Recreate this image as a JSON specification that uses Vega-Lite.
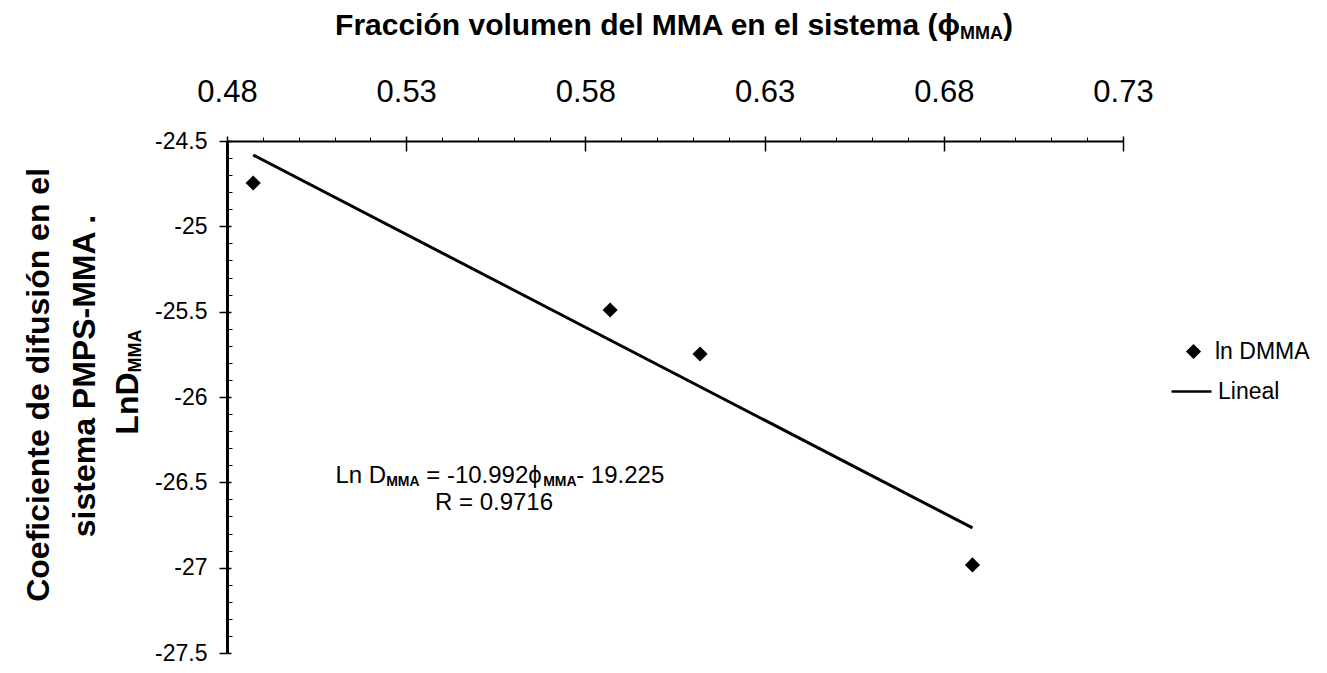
{
  "$schema": "https://vega.github.io/schema/vega-lite/v6.json",
  "width": 896,
  "height": 512,
  "autosize": "none",
  "padding": {"left": 227, "top": 141, "right": 204, "bottom": 20},
  "background": "white",
  "config": {
    "view": {"stroke": null},
    "font": "Liberation Sans",
    "axis": {"grid": false, "domainColor": "black", "tickColor": "black", "labelColor": "black", "labelFont": "Liberation Sans"},
    "legend": {"labelFont": "Liberation Sans", "labelColor": "black", "labelFontSize": 23, "padding": 0, "title": null},
    "text": {"font": "Liberation Sans", "color": "black"}
  },
  "resolve": {"axis": {"x": "independent", "y": "independent"}},
  "layer": [
    {
      "data": {"values": [
        {"phi": 0.4873, "lnD": -24.746, "serie": "ln DMMA"},
        {"phi": 0.5869, "lnD": -25.49, "serie": "ln DMMA"},
        {"phi": 0.612, "lnD": -25.748, "serie": "ln DMMA"},
        {"phi": 0.688, "lnD": -26.984, "serie": "ln DMMA"}
      ]},
      "mark": {"type": "point", "filled": true, "color": "black", "opacity": 1, "size": 230},
      "encoding": {
        "x": {"field": "phi", "type": "quantitative", "scale": {"domain": [0.48, 0.73], "nice": false, "zero": false},
          "axis": {"orient": "top", "title": null, "values": [0.48, 0.53, 0.58, 0.63, 0.68, 0.73], "format": ".2f", "labelFontSize": 31, "labelPadding": 28, "tickSize": 5, "tickWidth": 1.5, "domainWidth": 2, "labelFlush": false}},
        "y": {"field": "lnD", "type": "quantitative", "scale": {"domain": [-27.5, -24.5], "nice": false, "zero": false},
          "axis": {"orient": "left", "title": null, "values": [-24.5, -25, -25.5, -26, -26.5, -27, -27.5], "labelExpr": "'-' + format(-datum.value, '~g')", "labelFontSize": 23, "labelPadding": 12, "tickSize": 8, "tickWidth": 1.5, "domainWidth": 3, "labelFlush": false}},
        "shape": {"field": "serie", "type": "nominal", "scale": {"domain": ["ln DMMA"], "range": ["diamond"]},
          "legend": {"orient": "none", "legendX": 955, "legendY": 199, "symbolSize": 230, "symbolFillColor": "black", "symbolOpacity": 1, "labelOffset": 10}}
      }
    },
    {
      "data": {"values": [
        {"phi": 0.4873, "lnD": -24.582, "serie": "Lineal"},
        {"phi": 0.688, "lnD": -26.767, "serie": "Lineal"}
      ]},
      "mark": {"type": "line", "strokeWidth": 3},
      "encoding": {
        "x": {"field": "phi", "type": "quantitative", "scale": {"domain": [0.48, 0.73], "nice": false, "zero": false},
          "axis": {"orient": "top", "title": null, "labels": false, "domain": false, "tickSize": 4, "tickWidth": 1,
            "values": [0.49, 0.50, 0.51, 0.52, 0.54, 0.55, 0.56, 0.57, 0.59, 0.60, 0.61, 0.62, 0.64, 0.65, 0.66, 0.67, 0.69, 0.70, 0.71, 0.72]}},
        "y": {"field": "lnD", "type": "quantitative", "scale": {"domain": [-27.5, -24.5], "nice": false, "zero": false},
          "axis": {"orient": "left", "title": null, "labels": false, "domain": false, "tickSize": -5, "tickWidth": 1,
            "values": [-24.6, -24.7, -24.8, -24.9, -25.1, -25.2, -25.3, -25.4, -25.6, -25.7, -25.8, -25.9, -26.1, -26.2, -26.3, -26.4, -26.6, -26.7, -26.8, -26.9, -27.1, -27.2, -27.3, -27.4]}},
        "color": {"field": "serie", "type": "nominal", "scale": {"domain": ["Lineal"], "range": ["black"]},
          "legend": {"orient": "none", "legendX": 943, "legendY": 229, "symbolSize": 1600, "symbolStrokeWidth": 2.5, "labelOffset": 5}}
      }
    },
    {
      "data": {"values": [{}]},
      "mark": {"type": "text", "text": "R = 0.9716", "fontSize": 24, "align": "center", "baseline": "alphabetic"},
      "encoding": {
        "x": {"datum": 0.5545, "type": "quantitative", "scale": {"domain": [0.48, 0.73], "nice": false, "zero": false},
          "axis": {"orient": "top", "title": null, "labels": false, "domain": false, "tickSize": -10, "tickWidth": 1.5, "values": [0.48, 0.53, 0.58, 0.63, 0.68, 0.73]}},
        "y": {"datum": -26.665, "type": "quantitative", "scale": {"domain": [-27.5, -24.5], "nice": false, "zero": false},
          "axis": {"orient": "left", "title": null, "labels": false, "domain": false, "tickSize": -4, "tickWidth": 1.5, "values": [-24.5, -25, -25.5, -26, -26.5, -27, -27.5]}}
      }
    },
    {
      "data": {"values": [{}]},
      "mark": {"type": "text", "text": "Ln D", "fontSize": 24, "align": "right", "baseline": "alphabetic"},
      "encoding": {
        "x": {"datum": 0.52442, "type": "quantitative", "axis": null},
        "y": {"datum": -26.503, "type": "quantitative", "axis": null}
      }
    },
    {
      "data": {"values": [{}]},
      "mark": {"type": "text", "text": "MMA", "fontSize": 14, "fontWeight": "bold", "align": "left", "baseline": "alphabetic", "dy": 3},
      "encoding": {
        "x": {"datum": 0.52442, "type": "quantitative", "axis": null},
        "y": {"datum": -26.503, "type": "quantitative", "axis": null}
      }
    },
    {
      "data": {"values": [{}]},
      "mark": {"type": "text", "text": "= -10.992ϕ", "fontSize": 24, "align": "left", "baseline": "alphabetic", "dx": 40},
      "encoding": {
        "x": {"datum": 0.52442, "type": "quantitative", "axis": null},
        "y": {"datum": -26.503, "type": "quantitative", "axis": null}
      }
    },
    {
      "data": {"values": [{}]},
      "mark": {"type": "text", "text": "MMA", "fontSize": 14, "fontWeight": "bold", "align": "left", "baseline": "alphabetic", "dx": 157, "dy": 3},
      "encoding": {
        "x": {"datum": 0.52442, "type": "quantitative", "axis": null},
        "y": {"datum": -26.503, "type": "quantitative", "axis": null}
      }
    },
    {
      "data": {"values": [{}]},
      "mark": {"type": "text", "text": "- 19.225", "fontSize": 24, "align": "left", "baseline": "alphabetic", "dx": 190},
      "encoding": {
        "x": {"datum": 0.52442, "type": "quantitative", "axis": null},
        "y": {"datum": -26.503, "type": "quantitative", "axis": null}
      }
    },
    {
      "data": {"values": [{}]},
      "mark": {"type": "text", "text": "Fracción volumen del MMA en el sistema (ϕ", "fontSize": 30, "fontWeight": "bold", "align": "right", "baseline": "middle"},
      "encoding": {
        "x": {"datum": 0.6845, "type": "quantitative", "axis": null},
        "y": {"datum": -23.826, "type": "quantitative", "axis": null}
      }
    },
    {
      "data": {"values": [{}]},
      "mark": {"type": "text", "text": "MMA", "fontSize": 18, "fontWeight": "bold", "align": "left", "baseline": "middle", "dy": 8},
      "encoding": {
        "x": {"datum": 0.6845, "type": "quantitative", "axis": null},
        "y": {"datum": -23.826, "type": "quantitative", "axis": null}
      }
    },
    {
      "data": {"values": [{}]},
      "mark": {"type": "text", "text": ")", "fontSize": 30, "fontWeight": "bold", "align": "left", "baseline": "middle", "dx": 43},
      "encoding": {
        "x": {"datum": 0.6845, "type": "quantitative", "axis": null},
        "y": {"datum": -23.826, "type": "quantitative", "axis": null}
      }
    },
    {
      "data": {"values": [{}]},
      "mark": {"type": "text", "text": "Coeficiente de difusión en el", "fontSize": 32, "fontWeight": "bold", "align": "center", "baseline": "middle", "angle": 270},
      "encoding": {
        "x": {"datum": 0.4275, "type": "quantitative", "axis": null},
        "y": {"datum": -25.929, "type": "quantitative", "axis": null}
      }
    },
    {
      "data": {"values": [{}]},
      "mark": {"type": "text", "text": "sistema PMPS-MMA .", "fontSize": 32, "fontWeight": "bold", "align": "center", "baseline": "middle", "angle": 270},
      "encoding": {
        "x": {"datum": 0.4405, "type": "quantitative", "axis": null},
        "y": {"datum": -25.877, "type": "quantitative", "axis": null}
      }
    },
    {
      "data": {"values": [{}]},
      "mark": {"type": "text", "text": "LnD", "fontSize": 32, "fontWeight": "bold", "align": "right", "baseline": "middle", "angle": 270},
      "encoding": {
        "x": {"datum": 0.4524, "type": "quantitative", "axis": null},
        "y": {"datum": -25.856, "type": "quantitative", "axis": null}
      }
    },
    {
      "data": {"values": [{}]},
      "mark": {"type": "text", "text": "MMA", "fontSize": 18, "fontWeight": "bold", "align": "left", "baseline": "middle", "angle": 270, "dy": 8},
      "encoding": {
        "x": {"datum": 0.4524, "type": "quantitative", "axis": null},
        "y": {"datum": -25.856, "type": "quantitative", "axis": null}
      }
    }
  ]
}
